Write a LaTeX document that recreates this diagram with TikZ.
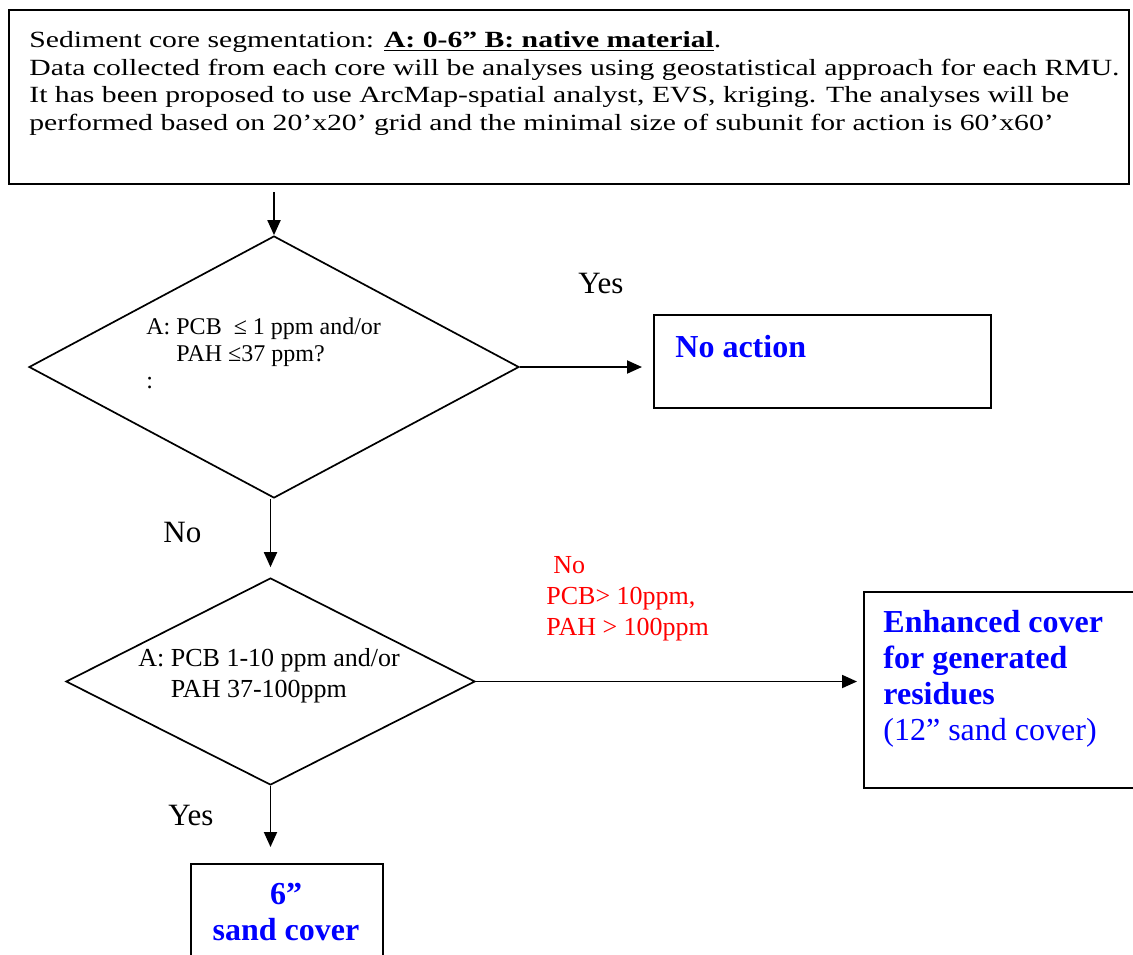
\documentclass[tikz,border=0pt]{standalone}
\usepackage{fontspec}
\setmainfont{Liberation Serif}
\newfontfamily\widefont[FakeStretch=1.28]{Liberation Serif}
\usetikzlibrary{shapes.geometric,arrows.meta}

\tikzset{
  box/.style={draw, line width=1.1pt, inner sep=0pt, anchor=north west},
  decision/.style={draw, diamond, line width=0.85pt, inner sep=0pt},
  flow/.style={line width=0.95pt, -{Triangle[length=7.5pt,width=6.5pt]}},
  txt/.style={anchor=base west, inner sep=0pt, align=left},
  answer/.style={txt, font=\fontsize{15.5}{18}\selectfont},
  result/.style={txt, text=blue, font=\fontsize{16}{18}\selectfont\bfseries},
}

\begin{document}
\begin{tikzpicture}[x=0.5pt,y=-0.5pt]
  \useasboundingbox (0,0) rectangle (1133,954);

  % header box (multi-line texts are placed by their last baseline)
  \node[box, minimum width=560pt, minimum height=87pt] (intro) at (8,9) {};
  \node[txt, font=\widefont\fontsize{11.6}{13.75}\selectfont] (introtxt) at (29,130)
    {Sediment core segmentation: \underline{\textbf{A: 0-6” B: native material}}.\\
     Data collected from each core will be analyses using geostatistical approach for each RMU.\\
     It has been proposed to use ArcMap-spatial analyst, EVS, kriging. The analyses will be\\
     performed based on 20’x20’ grid and the minimal size of subunit for action is 60’x60’};

  % first test
  \node[decision, minimum width=245pt, minimum height=131pt] (test1) at (274,367) {};
  \node[txt, font=\fontsize{12}{13.5}\selectfont] (test1txt) at (146,388)
    {A: PCB\ \ ≤ 1 ppm and/or\\\hphantom{A: }PAH ≤37 ppm?\\:};

  \node[box, minimum width=168.5pt, minimum height=46.5pt] (noaction) at (653,314) {};
  \node[result] (noactiontxt) at (675,357) {No action};

  % second test
  \node[decision, minimum width=204.5pt, minimum height=103.5pt] (test2) at (270.5,681.5) {};
  \node[txt, font=\fontsize{13}{15.5}\selectfont] (test2txt) at (138,697)
    {A: PCB 1-10 ppm and/or\\\hphantom{A: }PAH 37-100ppm};

  \node[box, minimum width=141pt, minimum height=98pt] (enhanced) at (863,591) {};
  \node[result] (enhancedtxt) at (883,740)
    {Enhanced cover\\for generated\\residues\\\mdseries(12” sand cover)};

  \node[box, minimum width=96pt, minimum height=51pt] (sand) at (190,863) {};
  \node[result, anchor=base, align=center] (sandtxt) at (286,940) {6”\\sand cover};

  % labels
  \node[answer] (yes1) at (578,293) {Yes};
  \node[answer] (no1) at (163,542) {No};
  \node[answer] (yes2) at (168,825) {Yes};
  \node[txt, text=red, font=\fontsize{13}{15.5}\selectfont] (no2) at (546,635)
    {\hspace{3.5pt}No\\PCB> 10ppm,\\PAH > 100ppm};

  % arrows
  \draw[flow, shorten <=3.5pt] (intro.south -| test1.north) -- (test1.north);
  \draw[flow, shorten >=5.5pt] (test1.east) -- (test1.east -| noaction.west);
  \draw[flow, shorten >=5pt] (test2.north |- test1.south) -- (test2.north);
  \draw[flow, shorten >=3pt] (test2.east) -- (test2.east -| enhanced.west);
  \draw[flow, shorten >=8pt] (test2.south) -- (test2.south |- sand.north);
\end{tikzpicture}
\end{document}
